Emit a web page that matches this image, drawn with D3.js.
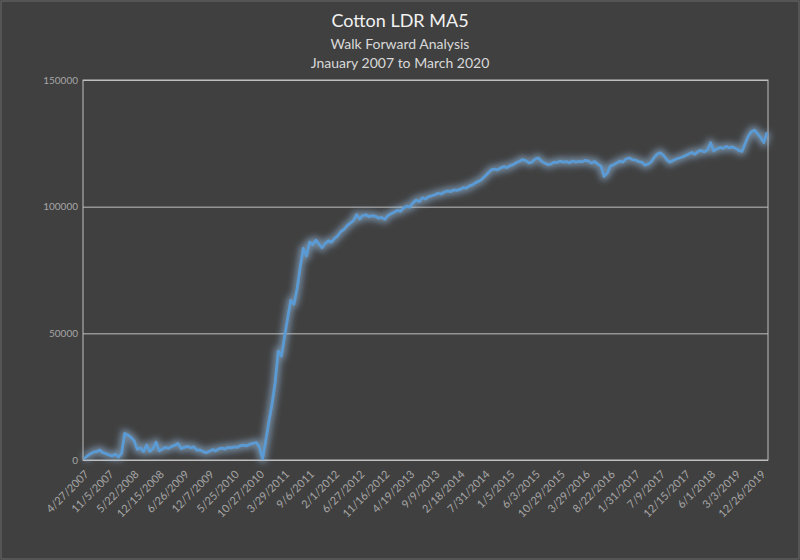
<!DOCTYPE html>
<html>
<head>
<meta charset="utf-8">
<script src="https://cdn.jsdelivr.net/npm/d3@7/dist/d3.min.js"></script>
<style>
  html, body { margin: 0; padding: 0; background: #404040; }
  svg { display: block; }
</style>
</head>
<body>
<div id="chart"></div>
<script>
// ---- Data ----
const titleText = "Cotton LDR MA5";
const subtitle1 = "Walk Forward Analysis";
const subtitle2 = "Jnauary 2007 to March 2020";

const yTicks = [0, 50000, 100000, 150000];

const tickLabels = [
  "4/27/2007", "11/5/2007", "5/22/2008", "12/15/2008", "6/26/2009", "12/7/2009",
  "5/25/2010", "10/27/2010", "3/29/2011", "9/6/2011", "2/1/2012", "6/27/2012",
  "11/16/2012", "4/19/2013", "9/9/2013", "2/18/2014", "7/31/2014", "1/5/2015",
  "6/3/2015", "10/29/2015", "3/29/2016", "8/22/2016", "1/31/2017", "7/9/2017",
  "12/15/2017", "6/1/2018", "3/3/2019", "12/26/2019"
];
const labelEvery = 8; // one date label every 8 trades

// cumulative equity, one value per trade
const equity = [
  500, 1500, 2400, 3100, 3300, 3900, 2900, 2500,
  2000, 1600, 2300, 1200, 2600, 10500, 9800, 8900,
  7600, 4200, 4800, 3300, 5900, 3400, 4500, 7000,
  3600, 4300, 5000, 4600, 5400, 5800, 6500, 4500,
  5000, 5400, 4800, 5200, 3900, 4000, 3300, 2900,
  3400, 4100, 3600, 4400, 4700, 4300, 5000, 4800,
  5200, 5000, 5700, 5900, 5600, 6300, 6600, 6900,
  5000, 500, 7500, 15000, 22000, 30500, 43000, 41000,
  48500, 56000, 63000, 61500, 67500, 76000, 83500, 80500,
  86000, 85000, 86800, 85200, 83800, 85500, 86500, 86000,
  87500, 88500, 90200, 91000, 92500, 93500, 94500, 96800,
  95200, 96500, 96800, 96000, 96500, 96200, 95500, 95800,
  95000, 96500, 97200, 97800, 98500, 98200, 99500, 100200,
  99800, 101500, 102600, 102000, 103500, 103000, 104000, 104300,
  104700, 105300, 105000, 105800, 106200, 105900, 106600, 106400,
  106800, 107500, 107300, 108200, 108600, 109500, 110000, 110800,
  112000, 113300, 114500, 114800, 114500, 115300, 115800, 115400,
  116200, 116600, 117400, 117900, 118600, 118200, 117300, 117600,
  118800, 119200, 118000, 117200, 116600, 116800, 117600, 117400,
  118000, 117600, 117800, 117300, 118000, 117600, 117900, 117700,
  118300, 118000, 117200, 117800, 116800, 116000, 112000, 113200,
  116000, 116500, 117200, 118000, 117600, 118800, 119200, 118600,
  118400, 117800, 117600, 116400, 116800, 117600, 119400, 120800,
  121300, 120200, 118600, 117600, 118200, 118800, 119200, 119600,
  120200, 120800, 121400, 120700, 121800, 122200, 121600, 122400,
  125200, 122000, 122800, 123400, 123000, 123800, 123200, 123600,
  123000, 122200, 121800, 124800, 127800, 129600, 130200, 128800,
  127200, 125300, 129300
];

// ---- Layout ----
const W = 800, H = 560;
const plot = { left: 83, right: 768, top: 80, bottom: 460 };

const svg = d3.select("#chart").append("svg")
  .attr("width", W).attr("height", H);

svg.append("rect").attr("x", 0).attr("y", 0).attr("width", W).attr("height", H)
  .attr("fill", "#404040");
svg.append("rect").attr("x", 1).attr("y", 1).attr("width", W - 2).attr("height", H - 2)
  .attr("fill", "none").attr("stroke", "#6a6a6a").attr("stroke-width", 1);

const defs = svg.append("defs");
const glow = defs.append("filter").attr("id", "glow")
  .attr("x", "-5%").attr("y", "-5%").attr("width", "110%").attr("height", "110%");
glow.append("feGaussianBlur").attr("stdDeviation", 3.4);

const x = d3.scaleLinear()
  .domain([0, equity.length - 1])
  .range([plot.left + 1, plot.right - 1]);
const y = d3.scaleLinear()
  .domain([0, 150000])
  .range([plot.bottom, plot.top]);

// Titles
const font = "Lato, 'Open Sans', sans-serif";
svg.append("text").attr("x", 400).attr("y", 27).attr("text-anchor", "middle")
  .attr("font-family", font).attr("font-size", 18).attr("fill", "#f2f2f2")
  .text(titleText);
svg.append("text").attr("x", 400).attr("y", 49).attr("text-anchor", "middle")
  .attr("font-family", font).attr("font-size", 14).attr("fill", "#d9d9d9")
  .text(subtitle1);
svg.append("text").attr("x", 400).attr("y", 68).attr("text-anchor", "middle")
  .attr("font-family", font).attr("font-size", 14).attr("fill", "#d9d9d9")
  .text(subtitle2);

// Gridlines
const yAxis = d3.axisLeft(y).tickValues(yTicks).tickSize(-(plot.right - plot.left))
  .tickFormat(d3.format("d")).tickPadding(5);
const gy = svg.append("g").attr("transform", `translate(${plot.left},0)`).call(yAxis);
gy.select(".domain").remove();
gy.selectAll(".tick line").attr("stroke", "#bfbfbf").attr("stroke-width", 1);
gy.selectAll(".tick text").attr("fill", "#a6a6a6").attr("font-family", font)
  .attr("font-size", 10);

// Plot border
svg.append("rect").attr("x", plot.left).attr("y", plot.top)
  .attr("width", plot.right - plot.left).attr("height", plot.bottom - plot.top)
  .attr("fill", "none").attr("stroke", "#bfbfbf").attr("stroke-width", 1);

// X axis labels
const labelIdx = tickLabels.map((_, i) => i * labelEvery);
const xAxis = d3.axisBottom(x).tickValues(labelIdx).tickSize(0)
  .tickFormat((d, i) => tickLabels[i]);
const gx = svg.append("g").attr("transform", `translate(0,${plot.bottom})`).call(xAxis);
gx.select(".domain").remove();
gx.selectAll(".tick text")
  .attr("fill", "#a6a6a6").attr("font-family", font).attr("font-size", 11)
  .attr("text-anchor", "end")
  .attr("dy", 0).attr("y", 0)
  .attr("transform", "translate(5,15) rotate(-45)");

// Line with glow
const line = d3.line().x((d, i) => x(i)).y(d => y(d));
svg.append("path").datum(equity).attr("d", line)
  .attr("fill", "none").attr("stroke", "#9cc6ee").attr("stroke-width", 8)
  .attr("stroke-opacity", 0.55).attr("stroke-linejoin", "round")
  .attr("filter", "url(#glow)");
svg.append("path").datum(equity).attr("d", line)
  .attr("fill", "none").attr("stroke", "#5b9bd5").attr("stroke-width", 2.8)
  .attr("stroke-linejoin", "round");
</script>
</body>
</html>
